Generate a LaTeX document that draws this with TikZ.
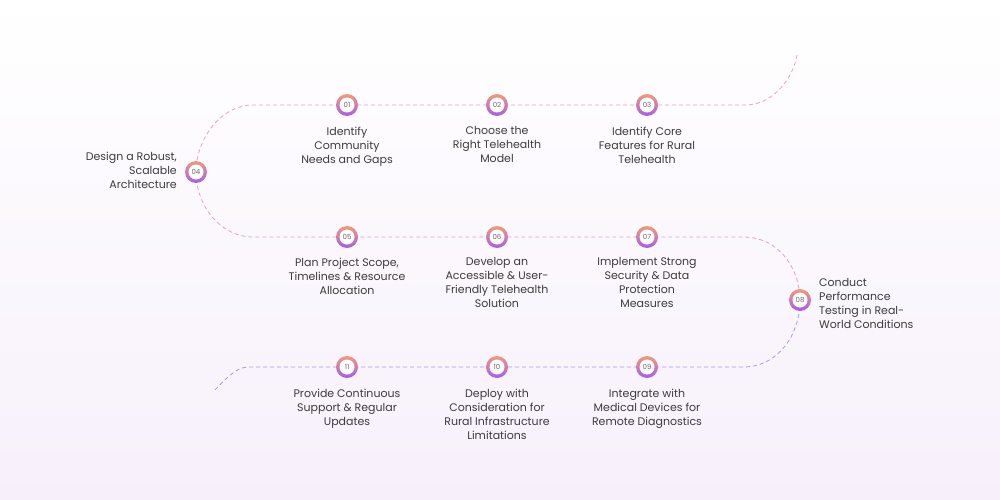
\documentclass[tikz,border=0pt]{standalone}
\usepackage{fontspec}
\setmainfont{Poppins}
\definecolor{bgA}{HTML}{FFFFFF}
\definecolor{bgB}{HTML}{F7F0FB}
\definecolor{ringA}{HTML}{F39A78}
\definecolor{ringB}{HTML}{A65CEB}
\definecolor{lineA}{HTML}{EBA3BB}
\definecolor{lineB}{HTML}{D9A2CF}
\definecolor{lineC}{HTML}{B693E6}
\definecolor{txt}{HTML}{3C3C3C}
\definecolor{numgray}{HTML}{666666}
\begin{document}
\begin{tikzpicture}[x=1pt,y=-1pt,
  stepnum/.style={circle, minimum size=22pt, inner sep=0pt, top color=ringA, bottom color=ringB,
    path picture={\fill[white] (path picture bounding box.center) circle (7.5pt);},
    font=\fontsize{7}{7}\selectfont, text=numgray},
  steptext/.style={font=\fontsize{11}{14}\selectfont, text=txt, inner sep=0pt, align=center},
  dashline/.style={dash pattern=on 4pt off 3pt, line width=0.8pt}
]
\shade[top color=bgA, bottom color=bgB] (0,0) rectangle (1000,500);
\useasboundingbox (0,0) rectangle (1000,500);
% coordinates
\coordinate (p01) at (347,105);
\coordinate (p02) at (497,105);
\coordinate (p03) at (647,105);
\coordinate (p04) at (196,172);
\coordinate (p05) at (347,237);
\coordinate (p06) at (497,237);
\coordinate (p07) at (647,237);
\coordinate (p08) at (800,300);
\coordinate (p09) at (647,367);
\coordinate (p10) at (497,367);
\coordinate (p11) at (347,367);
\coordinate (topstart) at (797,55);
\coordinate (topend) at (745,105);
\coordinate (l1) at (253,105);
\coordinate (l2) at (253,237);
\coordinate (r1) at (743,237);
\coordinate (r2) at (743,367);
\coordinate (b1) at (248,367);
\coordinate (bend) at (213,392);
% path
\draw[dashline, lineA] (topstart) .. controls (794,75) and (775,105) .. (topend) -- (p03) -- (p02) -- (p01) -- (l1)
  .. controls (220,105) and (196,140) .. (p04);
\draw[dashline, lineB] (p04) .. controls (196,205) and (220,237) .. (l2) -- (p05) -- (p06) -- (p07) -- (r1)
  .. controls (780,237) and (800,270) .. (p08);
\draw[dashline, lineC] (p08) .. controls (800,335) and (778,367) .. (r2) -- (p09) -- (p10) -- (p11) -- (b1)
  .. controls (235,367) and (222,383) .. (bend);
% circles
\node[stepnum] (n01) at (p01) {01};
\node[stepnum] (n02) at (p02) {02};
\node[stepnum] (n03) at (p03) {03};
\node[stepnum] (n04) at (p04) {04};
\node[stepnum] (n05) at (p05) {05};
\node[stepnum] (n06) at (p06) {06};
\node[stepnum] (n07) at (p07) {07};
\node[stepnum] (n08) at (p08) {08};
\node[stepnum] (n09) at (p09) {09};
\node[stepnum] (n10) at (p10) {10};
\node[stepnum] (n11) at (p11) {11};
% texts
\node[steptext, anchor=north] (t01) at (347,126.5) {Identify\\Community\\Needs and Gaps};
\node[steptext, anchor=north] (t02) at (497,126.5) {Choose the\\Right Telehealth\\Model};
\node[steptext, anchor=north] (t03) at (647,126.5) {Identify Core\\Features for Rural\\Telehealth};
\node[steptext, anchor=north east, align=right] (t04) at (177,151.5) {Design a Robust,\\Scalable\\Architecture};
\node[steptext, anchor=north] (t05) at (347,257.5) {Plan Project Scope,\\Timelines \& Resource\\Allocation};
\node[steptext, anchor=north] (t06) at (497,257.5) {Develop an\\Accessible \& User-\\Friendly Telehealth\\Solution};
\node[steptext, anchor=north] (t07) at (647,257.5) {Implement Strong\\Security \& Data\\Protection\\Measures};
\node[steptext, anchor=north west, align=left] (t08) at (819,278.5) {Conduct\\Performance\\Testing in Real-\\World Conditions};
\node[steptext, anchor=north] (t09) at (647,388.5) {Integrate with\\Medical Devices for\\Remote Diagnostics};
\node[steptext, anchor=north] (t10) at (497,388.5) {Deploy with\\Consideration for\\Rural Infrastructure\\Limitations};
\node[steptext, anchor=north] (t11) at (347,388.5) {Provide Continuous\\Support \& Regular\\Updates};
\end{tikzpicture}
\end{document}
